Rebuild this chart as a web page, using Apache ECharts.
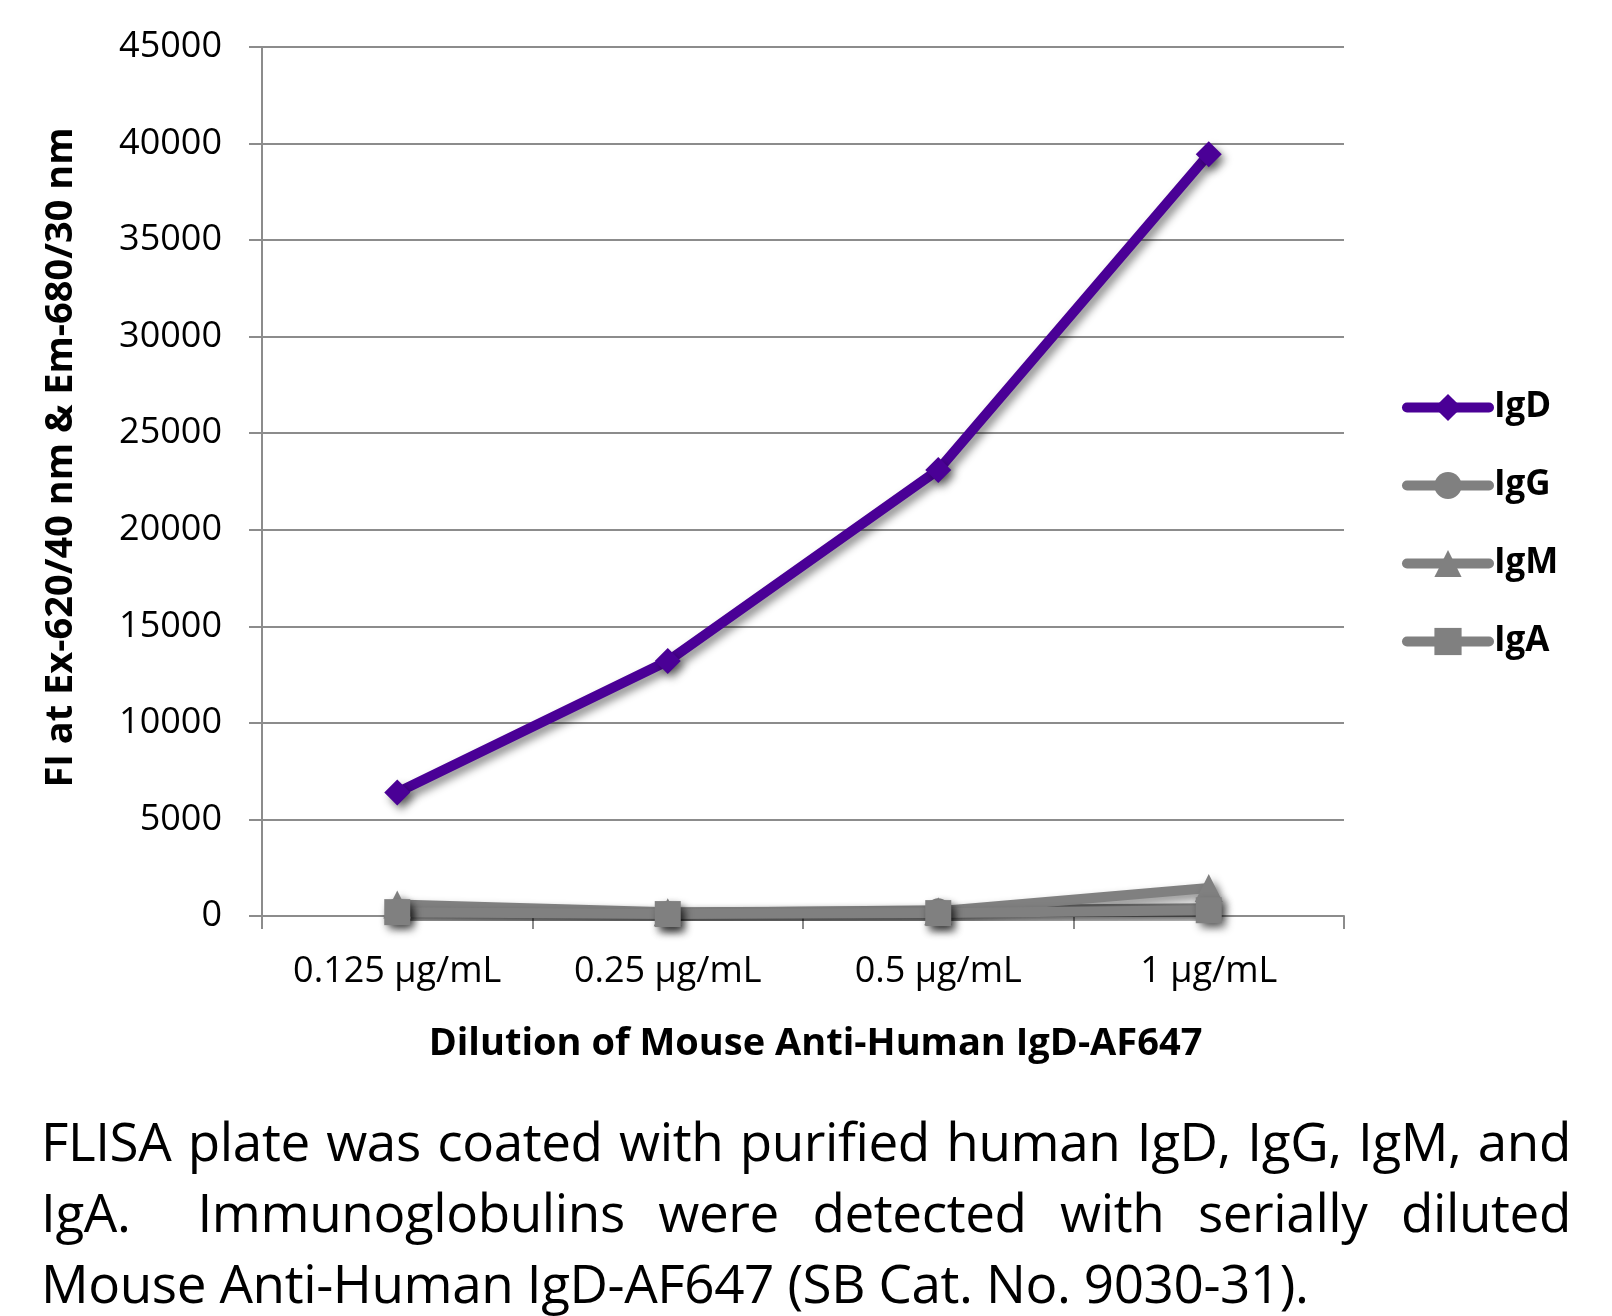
<!DOCTYPE html>
<html>
<head>
<meta charset="utf-8">
<script src="https://cdn.jsdelivr.net/npm/echarts@6/dist/echarts.min.js"></script>
<style>
html,body{margin:0;padding:0;background:#fff;}
#chart{position:absolute;left:0;top:0;width:1612px;height:1316px;}
#caption{position:absolute;left:41px;top:1105px;width:1530px;font-family:"Open Sans",sans-serif;font-size:53px;line-height:71px;color:#000;letter-spacing:-0.4px;}
#caption div{white-space:nowrap;}
#caption .j{text-align:justify;text-align-last:justify;white-space:normal;}
</style>
</head>
<body>
<div id="chart"></div>
<div id="caption">
<div class="j">FLISA plate was coated with purified human IgD, IgG, IgM, and</div>
<div class="j">IgA.&nbsp; Immunoglobulins were detected with serially diluted</div>
<div>Mouse Anti-Human IgD-AF647 (SB Cat. No. 9030-31).</div>
</div>
<script>
const categories = ["0.125 μg/mL", "0.25 μg/mL", "0.5 μg/mL", "1 μg/mL"];
const seriesNames = ["IgD", "IgG", "IgM", "IgA"];
const igD = [6400, 13200, 23100, 39450];
const igG = [300, 150, 300, 400];
const igM = [600, 200, 250, 1450];
const igA = [200, 100, 150, 300];
const yTicks = [0, 5000, 10000, 15000, 20000, 25000, 30000, 35000, 40000, 45000];

const FONT = '"Open Sans", sans-serif';
const purple = '#4a0096';
const gray = '#808080';
const shadow = {shadowBlur: 8, shadowOffsetX: 4, shadowOffsetY: 5, shadowColor: 'rgba(0,0,0,0.45)'};

function mk(name, data, color, symbol, size) {
  return {
    name: name, type: 'line', data: data, symbol: symbol, symbolSize: size,
    lineStyle: Object.assign({color: color, width: 10, cap: 'round', join: 'round'}, shadow),
    itemStyle: Object.assign({color: color}, shadow),
    emphasis: {disabled: true}, animation: false, z: 3
  };
}

const chart = echarts.init(document.getElementById('chart'), null, {renderer: 'canvas'});
chart.setOption({
  backgroundColor: '#fff',
  animation: false,
  grid: {left: 262, right: 268, top: 47, bottom: 400, containLabel: false},
  legend: {
    orient: 'vertical', left: 1397, top: 384,
    itemWidth: 82, itemHeight: 34, itemGap: 41,
    data: seriesNames,
    lineStyle: {width: 10, cap: 'round', shadowBlur: 0, shadowOffsetX: 0, shadowOffsetY: 0},
    itemStyle: {shadowBlur: 0, shadowOffsetX: 0, shadowOffsetY: 0},
    textStyle: {fontFamily: FONT, fontWeight: 'bold', fontSize: 35, color: '#000', lineHeight: 37, padding: [0,0,0,0]},
    selectedMode: false
  },
  xAxis: {
    type: 'category', data: categories, boundaryGap: true,
    axisLine: {lineStyle: {color: '#8c8c8c', width: 2}},
    axisTick: {show: true, length: 13, lineStyle: {color: '#8c8c8c', width: 2}},
    axisLabel: {interval: 0, fontFamily: FONT, fontSize: 36, color: '#000', margin: 38},
    name: 'Dilution of Mouse Anti-Human IgD-AF647',
    nameLocation: 'middle', nameGap: 109,
    nameTextStyle: {fontFamily: FONT, fontWeight: 'bold', fontSize: 38, color: '#000', padding: [0, 0, 0, 25]}
  },
  yAxis: {
    type: 'value', min: 0, max: 45000, interval: 5000,
    axisLine: {show: true, lineStyle: {color: '#8c8c8c', width: 2}},
    axisTick: {show: true, length: 13, lineStyle: {color: '#8c8c8c', width: 2}},
    splitLine: {show: true, lineStyle: {color: '#8c8c8c', width: 2}},
    axisLabel: {fontFamily: FONT, fontSize: 36, color: '#000', margin: 40,
      formatter: function (v) { return yTicks.indexOf(v) >= 0 ? String(v) : ''; }},
    name: 'FI at Ex-620/40 nm & Em-680/30 nm',
    nameLocation: 'middle', nameGap: 182, nameRotate: 90,
    nameTextStyle: {fontFamily: FONT, fontWeight: 'bold', fontSize: 38, color: '#000', padding: [0, 0, 0, 48]}
  },
  series: [
    mk('IgD', igD, purple, 'diamond', 26),
    mk('IgG', igG, gray, 'circle', 24),
    mk('IgM', igM, gray, 'triangle', 28),
    mk('IgA', igA, gray, 'rect', 26)
  ]
});
</script>
</body>
</html>
